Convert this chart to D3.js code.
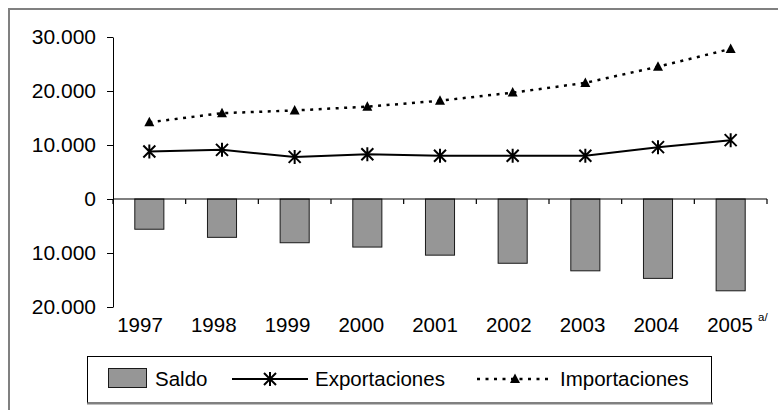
<!DOCTYPE html>
<html><head><meta charset="utf-8">
<script src="https://cdn.jsdelivr.net/npm/d3@7"></script>
<style>
body{margin:0;background:#fff}
svg{display:block}
text{font-family:"Liberation Sans",Arial,sans-serif;fill:#000}
</style>
</head><body>
<svg id="c" width="778" height="410"></svg>
<script>
const years = ["1997","1998","1999","2000","2001","2002","2003","2004","2005"];
const saldo = [-5600,-7100,-8100,-8900,-10400,-11900,-13300,-14700,-17000];
const exportaciones = [8800,9100,7800,8300,8000,8000,8000,9600,10900];
const importaciones = [14200,15900,16400,17100,18200,19700,21500,24500,27800];
const yTicks = [-20000,-10000,0,10000,20000,30000];
const legendLabels = ["Saldo","Exportaciones","Importaciones"];
const footnote = "a/";

const svg = d3.select("#c");
const loc = d3.formatLocale({decimal:",", thousands:".", grouping:[3], currency:["",""]});
const fmt = loc.format(",d");

// outer frame
svg.append("rect").attr("x",9).attr("y",9).attr("width",820).attr("height",520)
  .attr("fill","none").attr("stroke","#808080").attr("stroke-width",2);

const x = d3.scaleBand().domain(years).range([113,767]).paddingInner(0.6).paddingOuter(0.3);
const y = d3.scaleLinear().domain([-20000,30000]).range([307,37]);
const xl = d3.scalePoint().domain(years).range([140,730]);

// y axis
const ya = svg.append("g").attr("transform","translate(113,0)")
  .call(d3.axisLeft(y).tickValues(yTicks).tickSize(6).tickSizeOuter(0).tickPadding(11)
    .tickFormat(d=>fmt(Math.abs(d))));
ya.select(".domain").attr("stroke","#000");
ya.selectAll(".tick line").attr("stroke","#000");
ya.selectAll(".tick text").attr("font-size",21).attr("font-family","Liberation Sans, Arial, sans-serif").attr("fill","#000");

// bars
svg.append("g").selectAll("rect").data(years).join("rect")
  .attr("x",d=>x(d)).attr("width",x.bandwidth())
  .attr("y",(d,i)=>y(Math.max(0,saldo[i])))
  .attr("height",(d,i)=>Math.abs(y(saldo[i])-y(0)))
  .attr("fill","#969696").attr("stroke","#1a1a1a").attr("stroke-width",1);

// zero axis line with ticks at band boundaries
const gap = (x.step()-x.bandwidth())/2;
const bounds = years.map(d=>x(d)-gap).concat([x(years[years.length-1])+x.bandwidth()+gap]);
svg.append("line").attr("x1",x.range()[0]).attr("x2",x.range()[1])
  .attr("y1",y(0)).attr("y2",y(0)).attr("stroke","#000").attr("stroke-width",1.2);
svg.append("g").selectAll("line").data(bounds).join("line")
  .attr("x1",d=>d).attr("x2",d=>d).attr("y1",y(0)).attr("y2",y(0)+5)
  .attr("stroke","#000").attr("stroke-width",1.2);

// x labels
svg.append("g").selectAll("text").data(years).join("text")
  .attr("x",d=>xl(d)).attr("y",332).attr("text-anchor","middle")
  .attr("font-size",20.5).text(d=>d);
svg.append("text").attr("x",758).attr("y",321).attr("font-size",11.5).text(footnote);

const cx = d=>x(d)+x.bandwidth()/2;
const starPath = "M-6,-6L6,6M-6,6L6,-6M0,-7L0,7";
const triPath = "M0,-5.5L5,4L-5,4Z";

// importaciones
svg.append("path").datum(importaciones)
  .attr("d",d3.line().x((d,i)=>cx(years[i])).y(d=>y(d)))
  .attr("fill","none").attr("stroke","#000").attr("stroke-width",2.5).attr("stroke-dasharray","3,5.5");
svg.append("g").selectAll("path").data(importaciones).join("path")
  .attr("transform",(d,i)=>`translate(${cx(years[i])},${y(d)})`)
  .attr("d",triPath).attr("fill","#000");

// exportaciones
svg.append("path").datum(exportaciones)
  .attr("d",d3.line().x((d,i)=>cx(years[i])).y(d=>y(d)))
  .attr("fill","none").attr("stroke","#000").attr("stroke-width",2);
svg.append("g").selectAll("path").data(exportaciones).join("path")
  .attr("transform",(d,i)=>`translate(${cx(years[i])},${y(d)})`)
  .attr("d",starPath).attr("fill","none").attr("stroke","#000").attr("stroke-width",2);

// legend
const lg = svg.append("g");
lg.append("rect").attr("x",87.5).attr("y",356.5).attr("width",624).attr("height",46.5)
  .attr("fill","#fff").attr("stroke","#000").attr("stroke-width",1);
lg.append("line").attr("x1",87).attr("x2",713).attr("y1",403.5).attr("y2",403.5)
  .attr("stroke","#808080").attr("stroke-width",2);
const ly = 379;
lg.append("rect").attr("x",108.5).attr("y",368.5).attr("width",38).attr("height",19)
  .attr("fill","#969696").attr("stroke","#1a1a1a");
lg.append("text").attr("x",155).attr("y",ly+7).attr("font-size",20.5).text(legendLabels[0]);
lg.append("line").attr("x1",232).attr("x2",308).attr("y1",ly).attr("y2",ly).attr("stroke","#000").attr("stroke-width",2);
lg.append("path").attr("transform",`translate(270,${ly})`).attr("d",starPath).attr("fill","none").attr("stroke","#000").attr("stroke-width",2);
lg.append("text").attr("x",315).attr("y",ly+7).attr("font-size",20.5).text(legendLabels[1]);
lg.append("line").attr("x1",477).attr("x2",553).attr("y1",ly).attr("y2",ly).attr("stroke","#000").attr("stroke-width",2.5).attr("stroke-dasharray","3,5.5");
lg.append("path").attr("transform",`translate(515,${ly})`).attr("d",triPath).attr("fill","#000");
lg.append("text").attr("x",560).attr("y",ly+7).attr("font-size",20.5).text(legendLabels[2]);
</script>
</body></html>
